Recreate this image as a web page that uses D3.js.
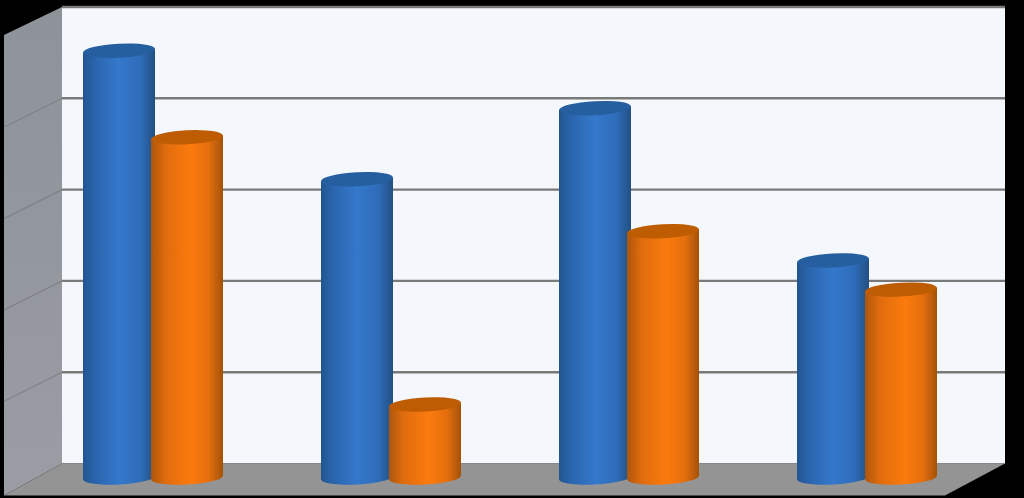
<!DOCTYPE html>
<html>
<head>
<meta charset="utf-8">
<script src="https://cdn.jsdelivr.net/npm/d3@7"></script>
<style>
  html, body { margin: 0; padding: 0; background: #000; overflow: hidden; }
  svg { display: block; }
</style>
</head>
<body>
<div id="svg-area"></div>
<script>
const categories = ["A", "B", "C", "D"];
const seriesNames = ["blue", "orange"];
const blueValues = [4.68, 3.27, 4.05, 2.38];
const orangeValues = [3.73, 0.8, 2.7, 2.06];
const gridTicks = [0, 1, 2, 3, 4, 5];

const svgWidth = 1024;
const svgHeight = 498;

// back wall corners, the box is sheared towards the viewer
const wall = { left: 62, right: 1005, top: 7, bottom: 463.5 };
const depth = { x: -58, y: 29 };
const floorRightX = 945;

const yWall = d3.scaleLinear().domain([0, 5]).range([wall.bottom, wall.top]);
// bars stand further forward than the wall so the zero sits lower
const yBar = d3.scaleLinear().domain([0, 5]).range([477.5, 21.5]);

const x0 = d3.scaleBand().domain(categories).range([34, 986]);
const x1 = d3.scaleBand().domain(seriesNames).range([-70, 66]);
const barWidth = 72;

let svg = d3.select("#svg-area")
  .append("svg")
  .attr("width", svgWidth)
  .attr("height", svgHeight);

const defs = svg.append("defs");

function addGradient(id, stops) {
  let g = defs.append("linearGradient").attr("id", id);
  stops.forEach(s => g.append("stop").attr("offset", s[0]).attr("stop-color", s[1]));
}

addGradient("blueBody", [[0, "#23558e"], [0.15, "#2a64ab"], [0.5, "#3478cc"], [0.8, "#2e6cb8"], [1, "#234f82"]]);
addGradient("orangeBody", [[0, "#ad5608"], [0.2, "#e06c0c"], [0.55, "#fb7a10"], [0.8, "#e56f0c"], [1, "#a45205"]]);
addGradient("sideWall", [[0, "#9a9da3"], [1, "#8d9399"]]);
defs.select("#sideWall").attr("x1", 0).attr("x2", 0).attr("y1", 1).attr("y2", 0);

// the reference is a soft, resampled picture
defs.append("filter").attr("id", "soft")
  .append("feGaussianBlur").attr("stdDeviation", 0.45);

const bodyFill = { blue: "url(#blueBody)", orange: "url(#orangeBody)" };
const capFill = { blue: "#265f9f", orange: "#bd5c05" };

let chart = svg.append("g").attr("filter", "url(#soft)");

// back wall
chart.append("rect")
  .attr("x", wall.left)
  .attr("y", wall.top)
  .attr("width", wall.right - wall.left)
  .attr("height", wall.bottom - wall.top)
  .attr("fill", "#f4f8fd");

// side wall
chart.append("path")
  .attr("d", d3.line()([
    [wall.left, wall.top],
    [wall.left, wall.bottom],
    [wall.left + depth.x, wall.bottom + depth.y + 3],
    [wall.left + depth.x, wall.top + depth.y - 1]
  ]) + "Z")
  .attr("fill", "url(#sideWall)");

// floor
chart.append("path")
  .attr("d", d3.line()([
    [wall.left, wall.bottom],
    [wall.right, wall.bottom],
    [floorRightX, wall.bottom + depth.y + 3],
    [wall.left + depth.x, wall.bottom + depth.y + 3]
  ]) + "Z")
  .attr("fill", "#949494");

// gridlines on the back wall and down the side wall
chart.selectAll(".grid")
  .data(gridTicks.filter(t => t > 0))
  .enter()
  .append("line")
  .attr("class", "grid")
  .attr("x1", wall.left)
  .attr("x2", wall.right)
  .attr("y1", d => yWall(d))
  .attr("y2", d => yWall(d))
  .attr("stroke", "#787979")
  .attr("stroke-width", 2.4);

chart.selectAll(".sideGrid")
  .data(gridTicks.filter(t => t > 0 && t < 5))
  .enter()
  .append("line")
  .attr("class", "sideGrid")
  .attr("x1", wall.left)
  .attr("x2", wall.left + depth.x)
  .attr("y1", d => yWall(d))
  .attr("y2", d => yWall(d) + depth.y)
  .attr("stroke", "#7f8389")
  .attr("stroke-width", 1.2);

// one row per bar, blue first so that orange overlaps it
let rows = [];
categories.forEach((c, i) => {
  rows.push({ cat: c, series: "blue", value: blueValues[i] });
  rows.push({ cat: c, series: "orange", value: orangeValues[i] });
});

let bars = chart.selectAll(".bar")
  .data(rows)
  .enter()
  .append("g")
  .attr("class", "bar")
  .attr("transform", d => `translate(${x0(d.cat) + x0.bandwidth() / 2 + x1(d.series) + barWidth / 2}, 0)`);

const tilt = -3;
const rx = 36;
const ry = 7;
// how far the ends of a tilted ellipse sit above or below its centre
const lean = rx * Math.tan(-tilt * Math.PI / 180);

bars.append("ellipse")
  .attr("rx", rx)
  .attr("ry", ry)
  .attr("transform", `translate(0, ${yBar(0)}) rotate(${tilt})`)
  .attr("fill", d => bodyFill[d.series]);

bars.append("path")
  .attr("d", d => d3.line()([
    [-rx, yBar(d.value) + lean],
    [rx, yBar(d.value) - lean],
    [rx, yBar(0) - lean],
    [-rx, yBar(0) + lean]
  ]) + "Z")
  .attr("fill", d => bodyFill[d.series]);

bars.append("ellipse")
  .attr("rx", rx)
  .attr("ry", ry)
  .attr("transform", d => `translate(0, ${yBar(d.value)}) rotate(${tilt})`)
  .attr("fill", d => capFill[d.series]);
</script>
</body>
</html>
